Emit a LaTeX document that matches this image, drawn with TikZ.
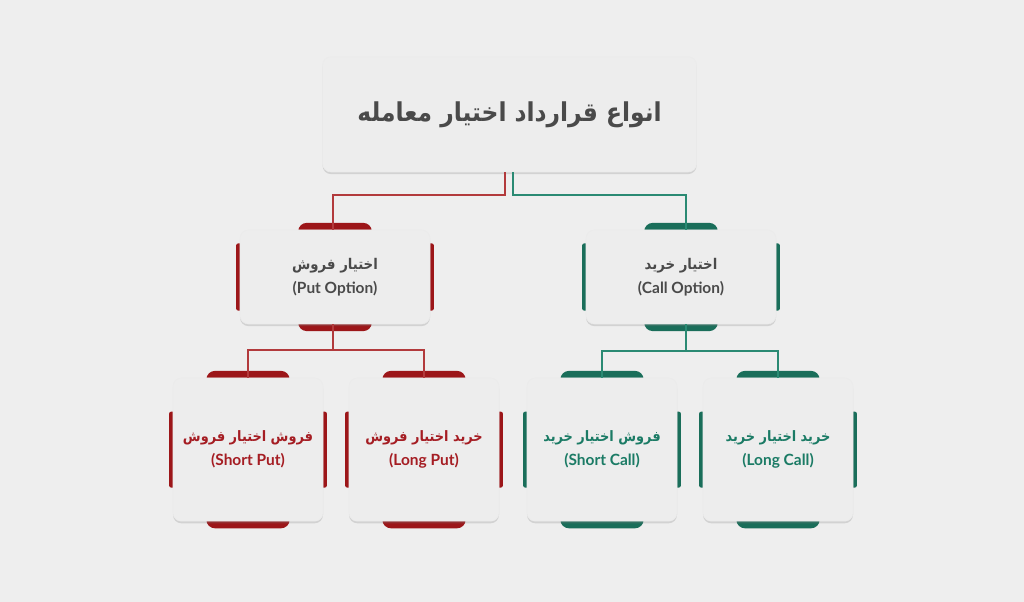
\documentclass[tikz,border=0pt]{standalone}
\usepackage{fontspec}
\setmainfont{Lato}
\newfontfamily\arabicfont[Script=Arabic]{DejaVu Sans Condensed}
\TeXXeTstate=1
\usetikzlibrary{shadows}
\definecolor{bgc}{HTML}{EEEEEE}
\definecolor{boxc}{HTML}{EDEDED}
\definecolor{redtab}{HTML}{9C1619}
\definecolor{redline}{HTML}{B23A3C}
\definecolor{redtext}{HTML}{A51D23}
\definecolor{greentab}{HTML}{1A6E5A}
\definecolor{greenline}{HTML}{2A8A73}
\definecolor{greentext}{HTML}{1B7B65}
\definecolor{greytext}{HTML}{4A4A4A}
\pgfdeclarelayer{back}
\pgfdeclarelayer{tabs}
\pgfsetlayers{back,tabs,main}

\begin{document}
\begin{tikzpicture}[
    box/.style = {fill=boxc, draw=black!8, line width=0.4pt, rounded corners=6pt, align=center, inner sep=2pt,
        drop shadow={shadow xshift=0pt, shadow yshift=-1.5pt, opacity=0.25}},
    titlebox/.style = {box, minimum width=9.35cm, minimum height=2.88cm, text=greytext},
    midbox/.style = {box, minimum width=4.75cm, minimum height=2.35cm, text=greytext},
    legbox/.style = {box, minimum width=3.75cm, minimum height=3.58cm},
    redconn/.style = {redline, line width=1.3pt},
    greenconn/.style = {greenline, line width=1.3pt}
]
    \begin{pgfonlayer}{back}
    \fill[bgc] (0,0) rectangle (25.6,-15.05);
    \end{pgfonlayer}
    \useasboundingbox (0,0) rectangle (25.6,-15.05);

    \node [titlebox] (top) at (12.74,-2.86)
        {\arabicfont\bfseries\fontsize{18.5}{24}\selectfont\beginR انواع قرارداد اختیار معامله\endR};

    \node [midbox] (put) at (8.375,-6.925)
        {{\arabicfont\bfseries\fontsize{10.5}{15}\selectfont\beginR اختیار فروش\endR}\\[5pt]
         {\bfseries\fontsize{11}{14}\selectfont (Put Option)}};
    \node [midbox] (call) at (17.025,-6.925)
        {{\arabicfont\bfseries\fontsize{10.5}{15}\selectfont\beginR اختیار خرید\endR}\\[5pt]
         {\bfseries\fontsize{11}{14}\selectfont (Call Option)}};

    \node [legbox, text=redtext] (sp) at (6.2,-11.24)
        {{\arabicfont\bfseries\fontsize{10.2}{15}\selectfont\beginR فروش اختیار فروش\endR}\\[5pt]
         {\bfseries\fontsize{11}{14}\selectfont (Short Put)}};
    \node [legbox, text=redtext] (lp) at (10.6,-11.24)
        {{\arabicfont\bfseries\fontsize{10.2}{15}\selectfont\beginR خرید اختیار فروش\endR}\\[5pt]
         {\bfseries\fontsize{11}{14}\selectfont (Long Put)}};
    \node [legbox, text=greentext] (sc) at (15.05,-11.24)
        {{\arabicfont\bfseries\fontsize{10.2}{15}\selectfont\beginR فروش اختیار خرید\endR}\\[5pt]
         {\bfseries\fontsize{11}{14}\selectfont (Short Call)}};
    \node [legbox, text=greentext] (lc) at (19.45,-11.24)
        {{\arabicfont\bfseries\fontsize{10.2}{15}\selectfont\beginR خرید اختیار خرید\endR}\\[5pt]
         {\bfseries\fontsize{11}{14}\selectfont (Long Call)}};

    % tabs and side strips behind the boxes
    \begin{pgfonlayer}{tabs}
    \foreach \n/\c/\hw/\hh in {put/redtab/0.92/0.84, call/greentab/0.92/0.84,
                               sp/redtab/1.04/0.95, lp/redtab/1.04/0.95,
                               sc/greentab/1.04/0.95, lc/greentab/1.04/0.95} {
        \fill[\c, rounded corners=6pt] ([xshift=-\hw cm, yshift=0.17cm]\n.north) rectangle ([xshift=\hw cm, yshift=-0.5cm]\n.north);
        \fill[\c, rounded corners=6pt] ([xshift=-\hw cm, yshift=-0.17cm]\n.south) rectangle ([xshift=\hw cm, yshift=0.5cm]\n.south);
        \fill[\c, rounded corners=1.5pt] ([xshift=-0.09cm, yshift=-\hh cm]\n.west) rectangle ([xshift=0.1cm, yshift=\hh cm]\n.west);
        \fill[\c, rounded corners=1.5pt] ([xshift=0.09cm, yshift=-\hh cm]\n.east) rectangle ([xshift=-0.1cm, yshift=\hh cm]\n.east);
    }
    \end{pgfonlayer}

    % connectors
    \draw[redconn] ([xshift=-0.11cm]top.south) -- ++(0,-0.575) -| ([xshift=-0.05cm]put.north);
    \draw[greenconn] ([xshift=0.09cm]top.south) -- ++(0,-0.575) -| ([xshift=0.12cm]call.north);

    \draw[redconn] ([xshift=-0.05cm]put.south) -- ++(0,-0.65) coordinate (pj);
    \draw[redconn] (sp.north) |- (pj) -| (lp.north);
    \draw[greenconn] ([xshift=0.12cm]call.south) -- ++(0,-0.67) coordinate (cj);
    \draw[greenconn] (sc.north) |- (cj) -| (lc.north);
\end{tikzpicture}
\end{document}
